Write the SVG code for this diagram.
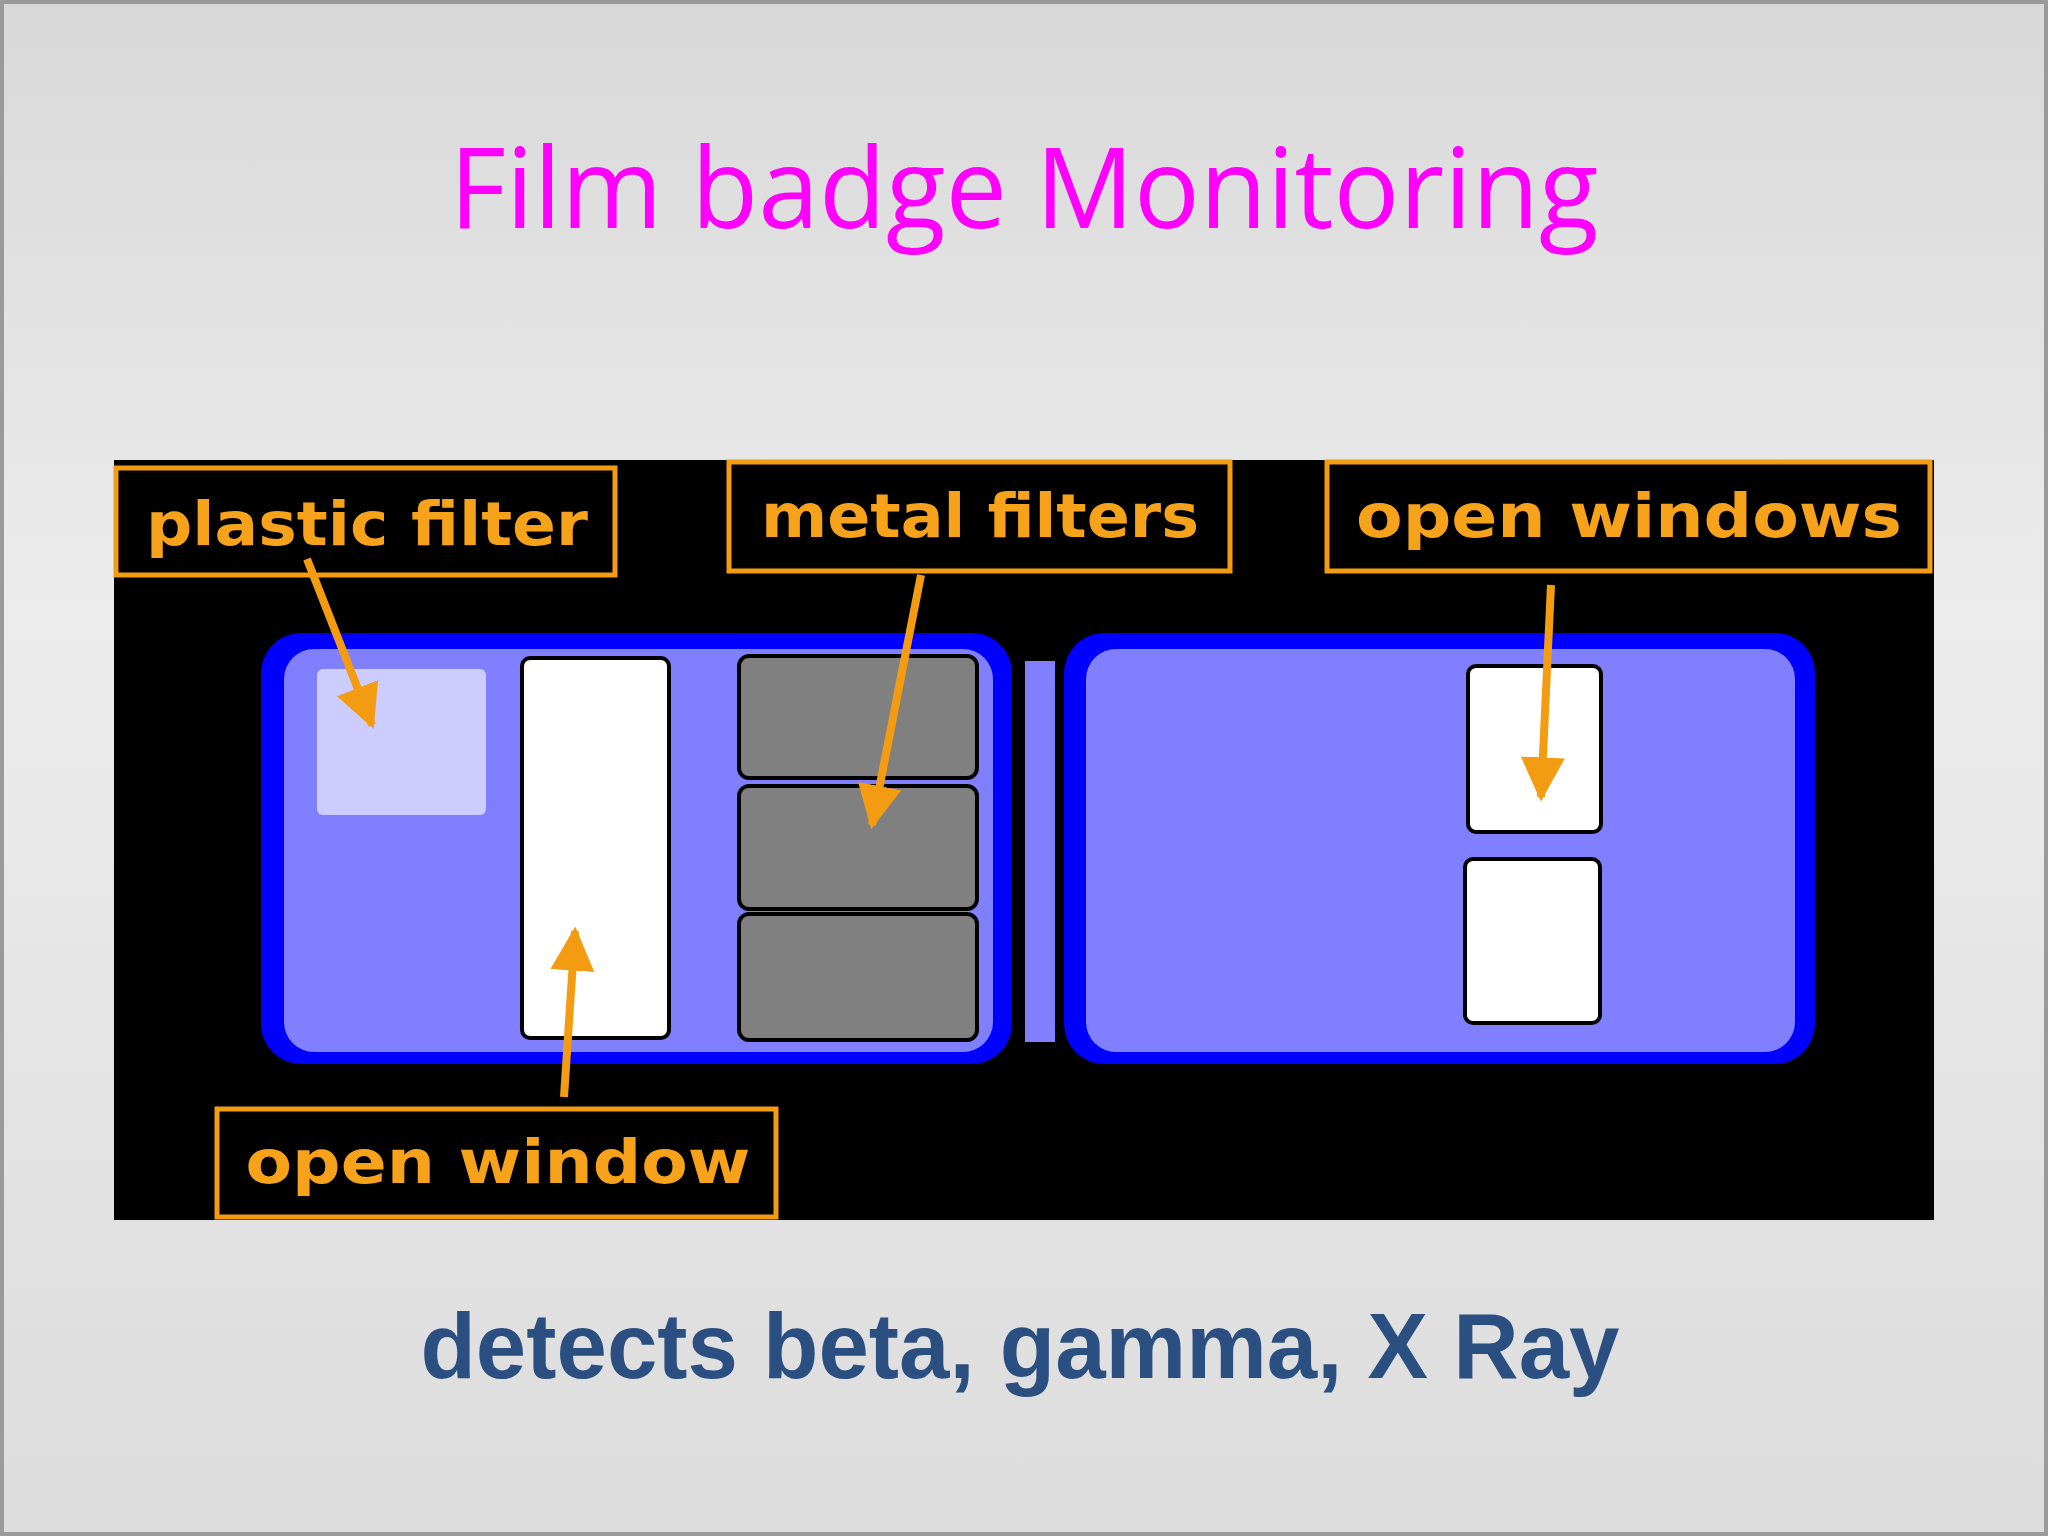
<svg xmlns="http://www.w3.org/2000/svg" width="2048" height="1536" viewBox="0 0 2048 1536">
<defs>
<linearGradient id="bg" x1="0" y1="0" x2="0" y2="1">
<stop offset="0" stop-color="#d8d8d8"/><stop offset="0.4" stop-color="#ececec"/><stop offset="1" stop-color="#dcdcdc"/>
</linearGradient>
<marker id="ah" viewBox="0 0 10 10" refX="9" refY="5" markerWidth="5.5" markerHeight="5.5" orient="auto" markerUnits="strokeWidth">
<path d="M0,0 L10,5 L0,10 z" fill="#f39c12"/>
</marker>
<style>
.lbl rect{fill:none;stroke:#f39c12;stroke-width:5}
.lbl text{font-family:"DejaVu Sans",sans-serif;font-weight:bold;font-size:60px;fill:#f7a21b;text-anchor:middle}
.arr{stroke:#f39c12;stroke-width:8;fill:none;marker-end:url(#ah)}
.win{fill:#fff;stroke:#000;stroke-width:4}
.grey{fill:#808080;stroke:#000;stroke-width:4}
</style>
</defs>
<rect width="2048" height="1536" fill="url(#bg)"/>
<rect x="2" y="2" width="2044" height="1532" fill="none" stroke="#9a9a9a" stroke-width="4"/>
<text x="1024" y="228" font-family="Open Sans, sans-serif" font-size="112" fill="#ff00ff" text-anchor="middle" textLength="1149" lengthAdjust="spacingAndGlyphs">Film badge Monitoring</text>
<rect x="114" y="460" width="1820" height="760" fill="#000"/>
<g id="left-badge">
<rect x="261" y="633" width="751" height="431" rx="40" fill="#0000ff"/>
<rect x="284" y="649" width="709" height="403" rx="30" fill="#8080ff"/>
<rect x="317" y="669" width="169" height="146" rx="6" fill="#ccccff"/>
<rect class="win" x="522" y="658" width="147" height="380" rx="8"/>
<rect class="grey" x="739" y="656" width="238" height="122" rx="10"/>
<rect class="grey" x="739" y="786" width="238" height="123" rx="10"/>
<rect class="grey" x="739" y="914" width="238" height="126" rx="10"/>
</g>
<rect id="hinge" x="1025" y="661" width="30" height="381" fill="#8080ff"/>
<g id="right-badge">
<rect x="1064" y="633" width="751" height="431" rx="40" fill="#0000ff"/>
<rect x="1086" y="649" width="709" height="403" rx="30" fill="#8080ff"/>
<rect class="win" x="1468" y="666" width="133" height="166" rx="8"/>
<rect class="win" x="1465" y="859" width="135" height="164" rx="8"/>
</g>
<g id="lbl-plastic" class="lbl"><rect x="116" y="468" width="499" height="107"/><text x="367" y="545" textLength="442" lengthAdjust="spacingAndGlyphs">plastic filter</text></g>
<g id="lbl-metal" class="lbl"><rect x="729" y="462" width="501" height="109"/><text x="980" y="537" textLength="438" lengthAdjust="spacingAndGlyphs">metal filters</text></g>
<g id="lbl-openwins" class="lbl"><rect x="1327" y="462" width="603" height="109"/><text x="1629" y="537" textLength="546" lengthAdjust="spacingAndGlyphs">open windows</text></g>
<g id="lbl-openwin" class="lbl"><rect x="217" y="1109" width="559" height="108"/><text x="498" y="1183" textLength="505" lengthAdjust="spacingAndGlyphs">open window</text></g>
<g id="connectors">
<line class="arr" x1="307" y1="559" x2="372" y2="725"/>
<line class="arr" x1="921" y1="575" x2="872" y2="825"/>
<line class="arr" x1="1551" y1="585" x2="1541" y2="797"/>
<line class="arr" x1="564" y1="1097" x2="575" y2="931"/>
</g>
<text x="1020" y="1378" font-family="Liberation Sans, Arial, sans-serif" font-weight="bold" font-size="92" fill="#2a4f80" text-anchor="middle" textLength="1199" lengthAdjust="spacingAndGlyphs">detects beta, gamma, X Ray</text>
</svg>
